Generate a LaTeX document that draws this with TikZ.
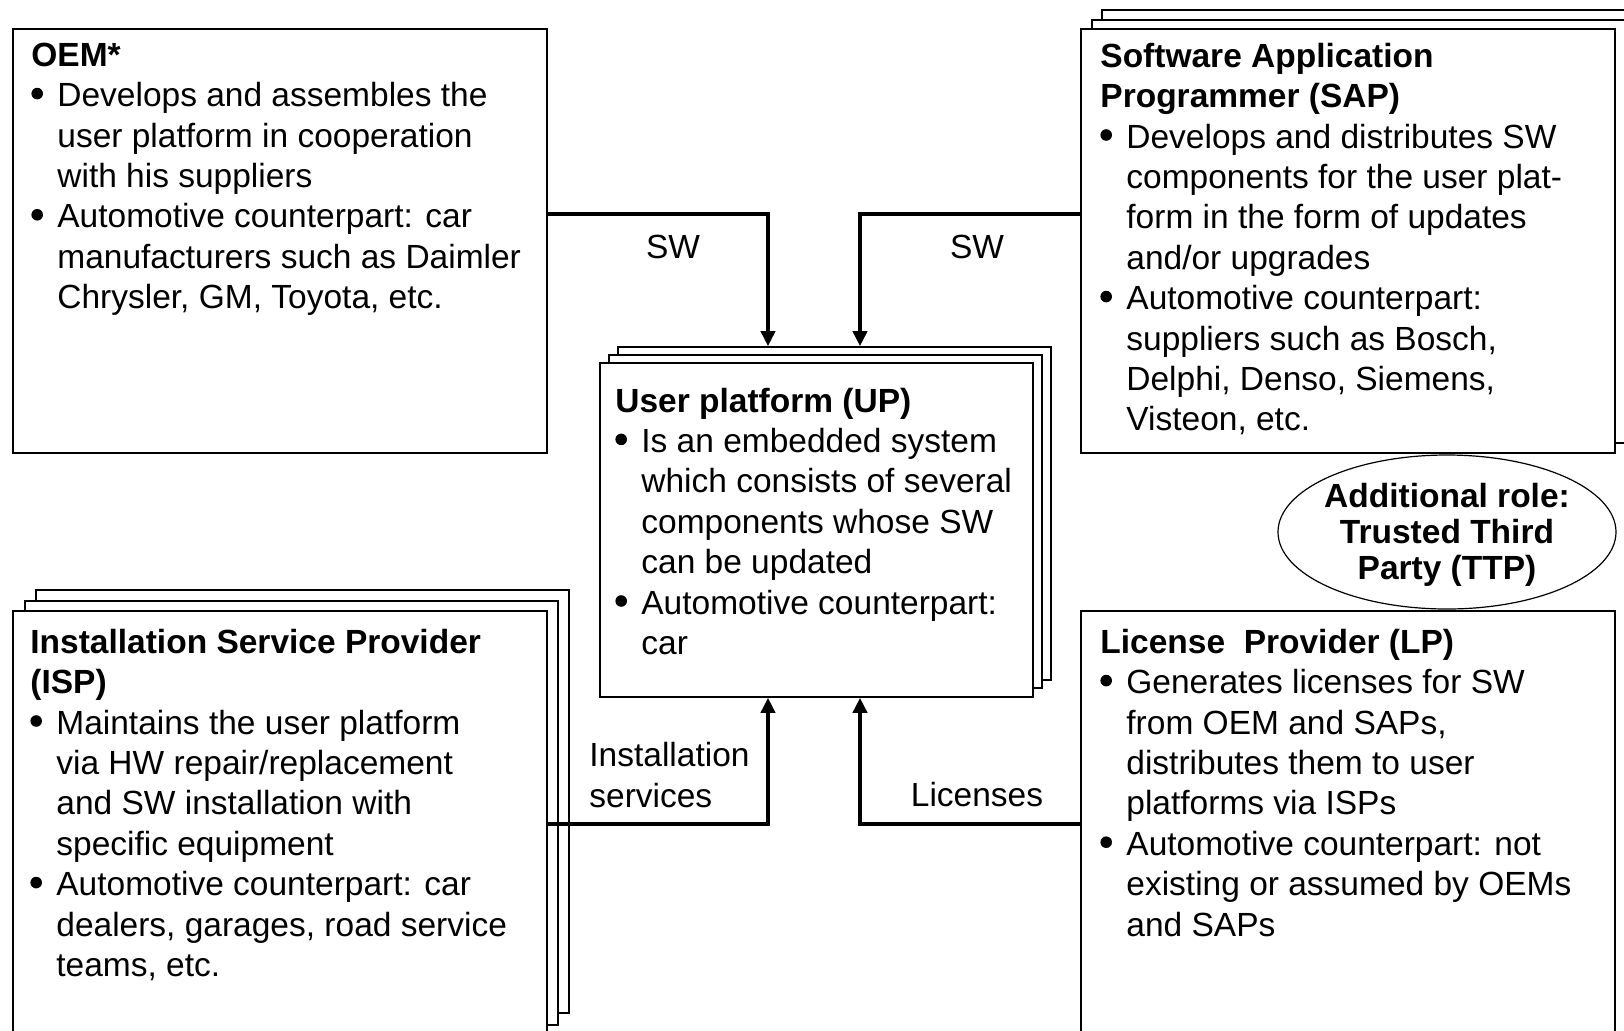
\documentclass[tikz,border=0pt]{standalone}
\usepackage{fontspec}
\setmainfont{Liberation Sans}
\usetikzlibrary{arrows.meta,shapes.geometric,fit}
\newcommand{\bu}{\makebox[13pt][l]{\tikz[baseline=0pt,x=1pt,y=1pt]\fill (3.1pt,6.6pt) circle (2.9pt);}}
\newcommand{\ii}{\hspace*{13pt}}
\begin{document}
\begin{tikzpicture}[x=0.5pt,y=-0.5pt,
  box/.style={draw, line width=0.8pt, fill=white, inner sep=0pt},
  txt/.style={anchor=north west, align=left, inner sep=0pt, font=\fontsize{16.75pt}{20.2pt}\selectfont},
  lbl/.style={inner sep=0pt, font=\fontsize{16.75pt}{20.2pt}\selectfont},
  conn/.style={line width=2pt, -{Triangle[width=7pt,length=7.5pt]}}]
\useasboundingbox (0,0) rectangle (1624,1030);
\clip (0,0) rectangle (1624,1030);
\fill[white] (0,0) rectangle (1624,1030);

% OEM
\node[box, fit={(13,29) (547,453)}] (oem) {};
% SAP stack
\node[box, fit={(1102,10) (1645,433)}] (sap3) {};
\node[box, fit={(1092,20) (1630,443)}] (sap2) {};
\node[box, fit={(1081,29) (1615,453)}] (sap) {};
% UP stack
\node[box, fit={(618,347) (1051,680)}] (up3) {};
\node[box, fit={(609,355) (1042,688)}] (up2) {};
\node[box, fit={(600,363) (1033,697)}] (up) {};
% ISP stack
\node[box, fit={(36,590) (569,1013)}] (isp3) {};
\node[box, fit={(25,601) (558,1025)}] (isp2) {};
\node[box, fit={(13,611) (547,1050)}] (isp) {};
% LP
\node[box, fit={(1081,611) (1615,1050)}] (lp) {};
% TTP ellipse
\node[draw, line width=0.6pt, ellipse, minimum width=169pt, minimum height=77pt, inner sep=0pt] (ttpshape) at (1447,532) {};
\node[lbl, anchor=north, align=center, font=\fontsize{16.75pt}{18pt}\selectfont\bfseries] (ttp) at (1447,481.8)
  {\strut Additional role:\\Trusted Third\\Party (TTP)};

% texts
\node[txt] (oemt) at (31,37.7) {\strut\textbf{OEM*}\\
\bu Develops and assembles the\\
\ii user platform in cooperation\\
\ii with his suppliers\\
\bu Automotive counterpart: car\\
\ii manufacturers such as Daimler\\
\ii Chrysler, GM, Toyota, etc.};

\node[txt] (sapt) at (1100,38.7) {\strut\textbf{Software Application}\\
\textbf{Programmer (SAP)}\\
\bu Develops and distributes SW\\
\ii components for the user plat-\\
\ii form in the form of updates\\
\ii and/or upgrades\\
\bu Automotive counterpart:\\
\ii suppliers such as Bosch,\\
\ii Delphi, Denso, Siemens,\\
\ii Visteon, etc.};

\node[txt] (upt) at (615,383.5) {\strut\textbf{User platform (UP)}\\
\bu Is an embedded system\\
\ii which consists of several\\
\ii components whose SW\\
\ii can be updated\\
\bu Automotive counterpart:\\
\ii car};

\node[txt] (ispt) at (30,624.7) {\strut\textbf{Installation Service Provider}\\
\textbf{(ISP)}\\
\bu Maintains the user platform\\
\ii via HW repair/replacement\\
\ii and SW installation with\\
\ii specific equipment\\
\bu Automotive counterpart: car\\
\ii dealers, garages, road service\\
\ii teams, etc.};

\node[txt] (lpt) at (1100,624.7) {\strut\textbf{License\ \ Provider (LP)}\\
\bu Generates licenses for SW\\
\ii from OEM and SAPs,\\
\ii distributes them to user\\
\ii platforms via ISPs\\
\bu Automotive counterpart: not\\
\ii existing or assumed by OEMs\\
\ii and SAPs};

% connectors
\coordinate (j1) at (768,214);
\coordinate (j2) at (860,214);
\coordinate (j3) at (768,824);
\coordinate (j4) at (860,824);
\draw[conn] (j1 -| oem.east) -- (j1) -- (j1 |- up3.north);
\draw[conn] (j2 -| sap.west) -- (j2) -- (j2 |- up3.north);
\draw[conn] (j3 -| isp.east) -- (j3) -- (j3 |- up.south);
\draw[conn] (j4 -| lp.west) -- (j4) -- (j4 |- up.south);

% labels
\node[lbl] (sw1) at (673,247) {SW};
\node[lbl] (sw2) at (977,247) {SW};
\node[lbl, anchor=north west, align=left] (inst) at (589,738) {\strut Installation\\services};
\node[lbl] (lic) at (977,795) {Licenses};
\end{tikzpicture}
\end{document}
